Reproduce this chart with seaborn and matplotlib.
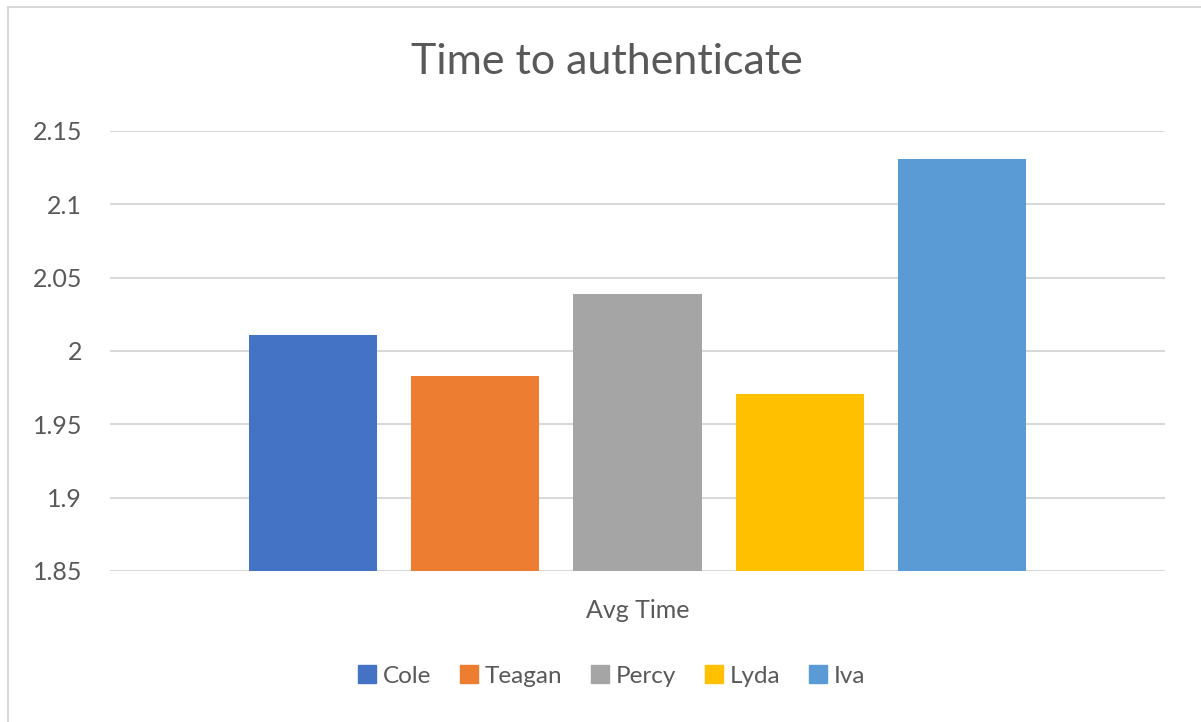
import matplotlib
matplotlib.use("Agg")
import matplotlib.pyplot as plt
import seaborn as sns
import pandas as pd
from matplotlib.lines import Line2D

names = ["Cole", "Teagan", "Percy", "Lyda", "Iva"]
values = [2.011, 1.983, 2.039, 1.971, 2.131]
category = "Avg Time"
yticks = [1.85, 1.9, 1.95, 2.0, 2.05, 2.1, 2.15]
ytick_labels = ["1.85", "1.9", "1.95", "2", "2.05", "2.1", "2.15"]
colors = ["#4472C4", "#ED7D31", "#A5A5A5", "#FFC000", "#5B9BD5"]

df = pd.DataFrame({"cat": [category] * len(names), "name": names, "value": values})

sns.set_theme(style="white")
plt.rcParams["font.family"] = ["Lato", "DejaVu Sans"]

fig = plt.figure(figsize=(12.01, 7.22), dpi=100)
ax = fig.add_axes([110 / 1201, 1 - 571 / 722, (1165 - 110) / 1201, (571 - 131) / 722])

sns.barplot(data=df, x="cat", y="value", hue="name", hue_order=names,
            palette=colors, width=0.768, gap=0.21, ax=ax, legend=False,
            saturation=1, edgecolor="none", zorder=3)

ax.set_xlim(-0.5, 0.5)
ax.set_ylim(1.85, 2.15)
ax.set_yticks(yticks)
ax.set_yticklabels(ytick_labels)
ax.yaxis.grid(True, color="#D9D9D9", linewidth=1.5, zorder=0)
ax.set_axisbelow(True)
for s in ax.spines.values():
    s.set_visible(False)
ax.tick_params(axis="both", length=0, labelsize=18, colors="#595959")
ax.tick_params(axis="y", pad=20)
ax.tick_params(axis="x", pad=20)
ax.set_xlabel("")
ax.set_ylabel("")

fig.text(0.505, 1 - 62 / 722, "Time to authenticate", ha="center", va="center",
         fontsize=31, color="#595959")

handles = [Line2D([0], [0], marker="s", linestyle="none", markersize=13,
                  markerfacecolor=c, markeredgecolor=c) for c in colors]
fig.legend(handles, names, loc="center", bbox_to_anchor=(0.508, 1 - 676 / 722),
           ncol=5, frameon=False, fontsize=17.5, labelcolor="#595959",
           handletextpad=0.15, columnspacing=1.05, handlelength=1.0)

# chart border (left and top visible)
fig.add_artist(Line2D([8 / 1201, 8 / 1201], [0, 1 - 7 / 722], transform=fig.transFigure,
                      color="#D9D9D9", linewidth=1.5))
fig.add_artist(Line2D([8 / 1201, 1], [1 - 7 / 722, 1 - 7 / 722], transform=fig.transFigure,
                      color="#D9D9D9", linewidth=1.5))

fig.savefig("out.png", dpi=100)
